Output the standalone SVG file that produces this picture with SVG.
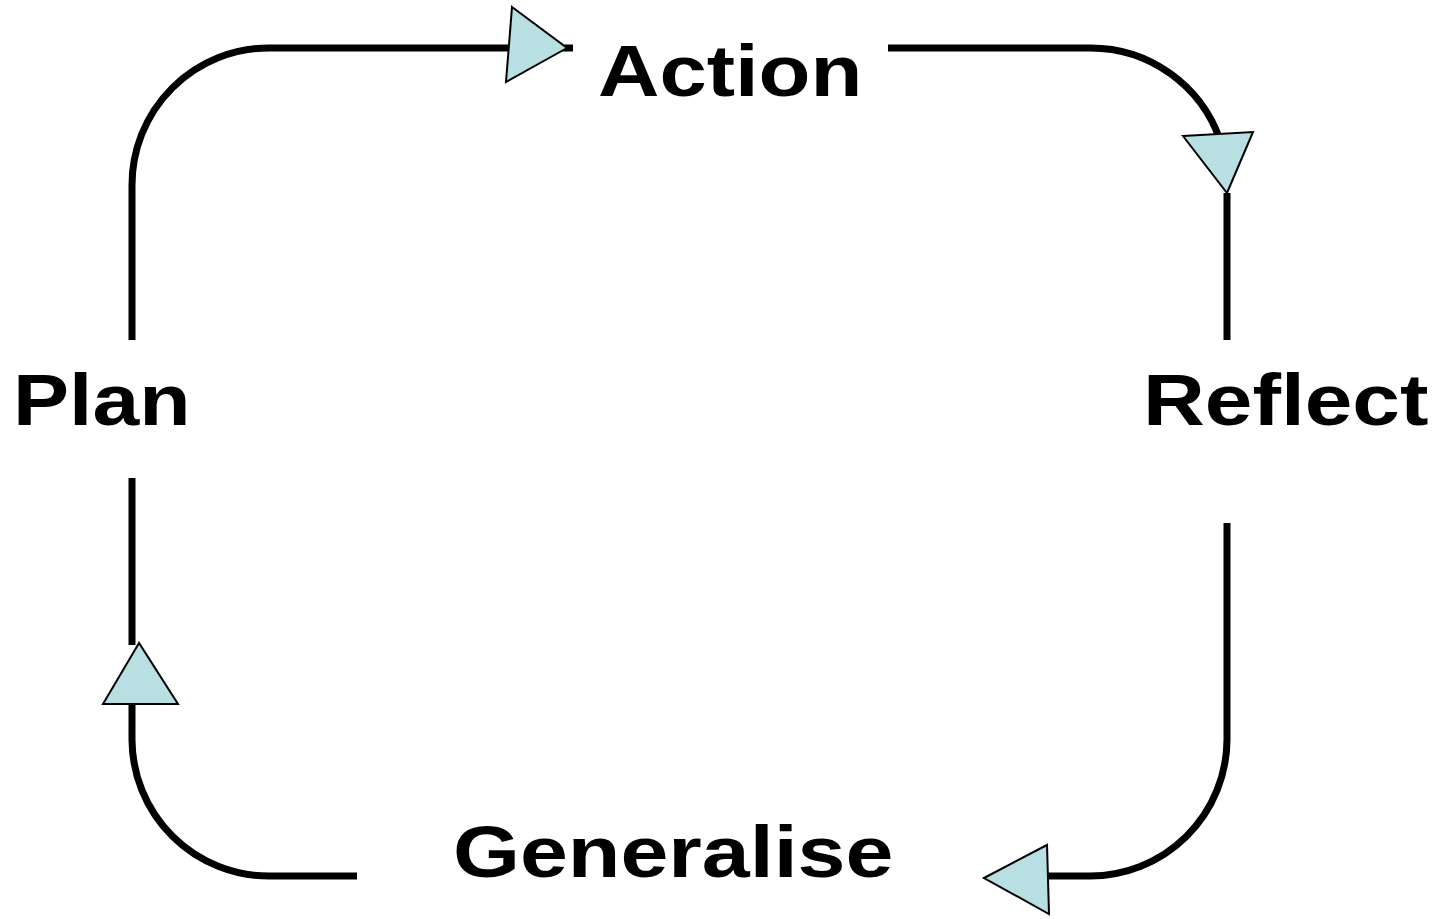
<svg xmlns="http://www.w3.org/2000/svg" width="1446" height="919" viewBox="0 0 1446 919">
<style>
.ln{fill:none;stroke:#000;stroke-width:7}
.ah{fill:#b8dfe1;stroke:#000;stroke-width:2;stroke-linejoin:miter}
.lb{font-family:"Liberation Sans",Arial,sans-serif;font-weight:bold;font-size:73px;fill:#000}
</style>
<rect width="1446" height="919" fill="#fff"/>
<g id="connectors">
<path class="ln" d="M132,340 V185 A137,137 0 0 1 269,48 H573"/>
<path class="ln" d="M888,48 H1090 A137,137 0 0 1 1220,140"/>
<path class="ln" d="M1227,193 V340"/>
<path class="ln" d="M1227,523 V740 A137,137 0 0 1 1090,876 H1048"/>
<path class="ln" d="M357,876 H269 A137,137 0 0 1 132,740 V700"/>
<path class="ln" d="M132,478 V645"/>
<polygon class="ah" points="512,7 567,48 506,82"/>
<polygon class="ah" points="1183,136 1253,132 1227,193"/>
<polygon class="ah" points="984,878 1047,845 1049,914"/>
<polygon class="ah" points="139,643 103,704 178,704"/>
</g>
<g id="action"><text class="lb" transform="translate(598,96) scale(1.17,1)" textLength="226" lengthAdjust="spacingAndGlyphs">Action</text></g>
<g id="reflect"><text class="lb" transform="translate(1143,425) scale(1.17,1)" textLength="244" lengthAdjust="spacingAndGlyphs">Reflect</text></g>
<g id="generalise"><text class="lb" transform="translate(453,877) scale(1.2,1)" textLength="367" lengthAdjust="spacingAndGlyphs">Generalise</text></g>
<g id="plan"><text class="lb" transform="translate(13,425) scale(1.16,1)" textLength="153" lengthAdjust="spacingAndGlyphs">Plan</text></g>
</svg>
